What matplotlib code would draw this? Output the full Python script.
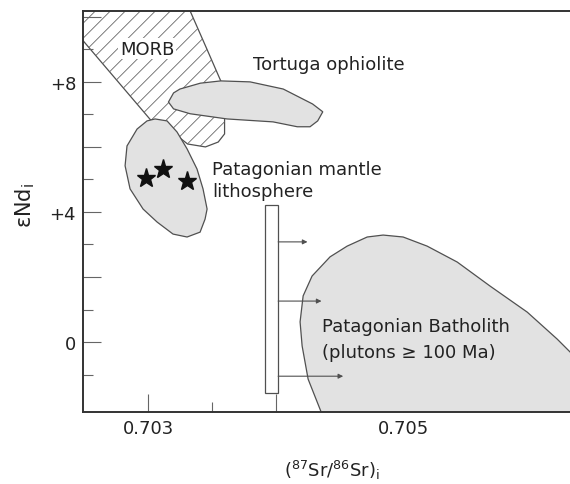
import matplotlib
matplotlib.use('Agg')
import matplotlib.pyplot as plt
import numpy as np
from matplotlib.patches import Polygon, Rectangle
from matplotlib.collections import LineCollection

plt.rcParams['font.family'] = ['DejaVu Sans']

# field outlines, (87Sr/86Sr)i vs eNd
morb_sr = [0.70239, 0.70329, 0.70333, 0.70346, 0.70357, 0.70360, 0.70360, 0.70355,
           0.70345, 0.70331, 0.70321, 0.70313, 0.70302, 0.70239]
morb_nd = [10.6, 10.6, 10.18, 9.02, 8.03, 6.92, 6.40, 6.15, 6.0, 6.09, 6.4, 6.77, 6.83, 9.73]

tortuga_sr = [0.70316, 0.70320, 0.70325, 0.70341, 0.70357, 0.70380, 0.70406, 0.70429,
              0.70437, 0.70433, 0.70427, 0.70417, 0.70398, 0.70362, 0.70333, 0.70320]
tortuga_nd = [7.38, 7.66, 7.78, 7.96, 8.03, 8.0, 7.78, 7.32, 7.08, 6.80, 6.62, 6.62,
              6.77, 6.86, 7.02, 7.17]

mantle_sr = [0.703055, 0.703149, 0.703227, 0.703306, 0.703384, 0.703431, 0.703463, 0.703447,
             0.703408, 0.703306, 0.703196, 0.703071, 0.702961, 0.702859, 0.702820, 0.702835,
             0.702914, 0.702992]
mantle_nd = [6.86, 6.80, 6.46, 5.94, 5.32, 4.71, 4.09, 3.78, 3.38, 3.23, 3.32, 3.69, 4.09,
             4.71, 5.42, 6.03, 6.55, 6.80]

batholith_sr = [0.704357, 0.704255, 0.704208, 0.704192, 0.704216, 0.704286, 0.704427, 0.704561,
                0.704718, 0.704843, 0.705000, 0.705188, 0.705424, 0.705682, 0.705973, 0.706208,
                0.706310, 0.706545, 0.706545, 0.704357]
batholith_nd = [-2.15, -1.14, -0.12, 0.62, 1.42, 2.03, 2.62, 2.95, 3.23, 3.29, 3.23, 2.95,
                2.46, 1.72, 0.92, 0.09, -0.31, -1.23, -2.4, -2.4]

# samples (stars)
star_sr = [0.702984, 0.703118, 0.703306]
star_nd = [5.05, 5.32, 4.95]

# plutons range bar and shift arrows
bar_sr = [0.70392, 0.70402]
bar_nd = [-1.57, 4.22]
arrow_nd = [3.08, 1.26, -1.05]
arrow_end_sr = [0.70425, 0.70436, 0.70453]

edge = '#505050'
fill = '#e2e2e2'

fig = plt.figure(figsize=(5.7, 4.85), dpi=100)
ax = fig.add_axes([0.1456, 0.1485, 0.866, 0.8268])
ax.set_xlim(0.70249, 0.70636)
ax.set_ylim(-2.15, 10.18)

morb = Polygon(list(zip(morb_sr, morb_nd)), closed=True, facecolor='none',
               edgecolor=edge, lw=0.9, zorder=1)
ax.add_patch(morb)

# diagonal hatching of the MORB field, ~15 px apart, clipped to the field
bbox = ax.get_position()
w_px = bbox.width * 570
h_px = bbox.height * 485
step = 15 / w_px
starts = np.arange(-1.0, 1.0, step)
segs = [[(u, 0), (u + h_px / w_px, 1)] for u in starts]
hatch = LineCollection(segs, colors='#666666', linewidths=0.6,
                       transform=ax.transAxes, zorder=1)
ax.add_collection(hatch)
hatch.set_clip_path(morb)

ax.add_patch(Polygon(list(zip(tortuga_sr, tortuga_nd)), closed=True, facecolor=fill,
                     edgecolor=edge, lw=0.9, zorder=2))
ax.add_patch(Polygon(list(zip(mantle_sr, mantle_nd)), closed=True, facecolor=fill,
                     edgecolor=edge, lw=0.9, zorder=2))
ax.add_patch(Polygon(list(zip(batholith_sr, batholith_nd)), closed=True, facecolor=fill,
                     edgecolor=edge, lw=0.9, zorder=2))

ax.add_patch(Rectangle((bar_sr[0], bar_nd[0]), bar_sr[1] - bar_sr[0], bar_nd[1] - bar_nd[0],
                       facecolor='white', edgecolor=edge, lw=0.9, zorder=3))
for yy, xe in zip(arrow_nd, arrow_end_sr):
    ax.annotate('', xy=(xe, yy), xytext=(bar_sr[1], yy),
                arrowprops=dict(arrowstyle='-|>', lw=0.8, color=edge,
                                mutation_scale=7, shrinkA=0, shrinkB=0), zorder=3)

ax.plot(star_sr, star_nd, linestyle='none', marker='*', markersize=14,
        color='#111111', zorder=4)

txt = dict(fontsize=13, color='#222222')
ax.text(0.702992, 9.02, 'MORB', ha='center', va='center', zorder=3,
        bbox=dict(facecolor='white', edgecolor='none', pad=1), **txt)
ax.text(0.70382, 8.4, 'Tortuga ophiolite', ha='left', va='baseline', **txt)
ax.text(0.70350, 5.17, 'Patagonian mantle', ha='left', va='baseline', **txt)
ax.text(0.70350, 4.49, 'lithosphere', ha='left', va='baseline', **txt)
ax.text(0.70436, 0.34, 'Patagonian Batholith', ha='left', va='baseline', zorder=3, **txt)
ax.text(0.70436, -0.46, '(plutons \u2265 100 Ma)', ha='left', va='baseline', zorder=3, **txt)

ax.set_xticks([0.703, 0.704, 0.705, 0.706])
ax.set_xticklabels(['0.703', '', '0.705', ''])
ax.set_xticks([0.7035, 0.7045, 0.7055], minor=True)
ax.set_yticks([0, 2, 4, 6, 8, 10])
ax.set_yticklabels(['0', '', '+4', '', '+8', ''])
ax.set_yticks([-1, 1, 3, 5, 7, 9], minor=True)

ax.tick_params(which='major', direction='in', length=13, width=0.8, color='#666666',
               labelsize=13, labelcolor='#222222', pad=5)
ax.tick_params(which='minor', direction='in', length=7, width=0.8, color='#666666')

ax.spines['right'].set_visible(False)
for s in ['left', 'bottom', 'top']:
    ax.spines[s].set_linewidth(1.4)
    ax.spines[s].set_color('#333333')
    ax.spines[s].set_zorder(5)

fig.text(332 / 570, 1 - 470 / 485, '($^{\\mathregular{87}}$Sr/$^{\\mathregular{86}}$Sr)$_\\mathregular{i}$',
         ha='center', va='center', fontsize=13, color='#222222')
fig.text(25 / 570, 1 - 205 / 485, '\u025bNd$_\\mathregular{i}$', rotation=90,
         ha='center', va='center', fontsize=15, color='#222222')

plt.savefig('out.png', dpi=100)
